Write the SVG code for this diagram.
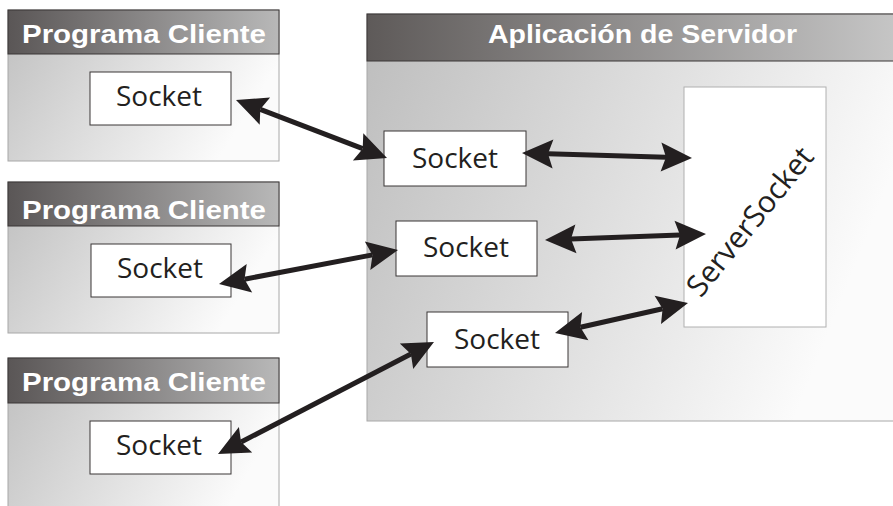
<svg xmlns="http://www.w3.org/2000/svg" width="893" height="506" viewBox="0 0 893 506">
<defs>
<linearGradient id="cBody" x1="0" y1="0" x2="1" y2="0.35">
<stop offset="0" stop-color="#bfbfbf"/><stop offset="1" stop-color="#fbfbfb"/>
</linearGradient>
<linearGradient id="cHead" x1="0" y1="0" x2="1" y2="0">
<stop offset="0" stop-color="#5a5656"/><stop offset="1" stop-color="#b8b8b8"/>
</linearGradient>
<linearGradient id="sHead" x1="0" y1="0" x2="1" y2="0">
<stop offset="0" stop-color="#5e5a59"/><stop offset="1" stop-color="#c8c8c8"/>
</linearGradient>
<linearGradient id="sBody" x1="0" y1="0" x2="1" y2="0.3">
<stop offset="0" stop-color="#bdbdbd"/><stop offset="1" stop-color="#fbfbfb"/>
</linearGradient>
</defs>
<style>
.body{stroke:#a8a8a8;stroke-width:1}
.head{stroke:#3a3636;stroke-width:1}
.ht{font-family:"Liberation Sans",Arial,sans-serif;font-weight:bold;font-size:25px;fill:#ffffff}
.box{fill:#ffffff;stroke:#3a3636;stroke-width:1}
.st{font-family:"Open Sans","Noto Sans",sans-serif;font-size:28px;fill:#231f20;text-anchor:middle}
.conn line{stroke:#231f20;stroke-width:5}
.conn polygon{fill:#231f20}
</style>
<rect width="893" height="506" fill="#ffffff"/>

<g id="client1">
<rect class="body" x="8" y="10" width="271" height="151" fill="url(#cBody)"/>
<rect class="head" x="8" y="10" width="271" height="44" fill="url(#cHead)"/>
<text class="ht" x="22" y="43" textLength="244" lengthAdjust="spacingAndGlyphs">Programa Cliente</text>
</g>
<g id="client2">
<rect class="body" x="8" y="182" width="271" height="151" fill="url(#cBody)"/>
<rect class="head" x="8" y="182" width="271" height="44" fill="url(#cHead)"/>
<text class="ht" x="22" y="219" textLength="244" lengthAdjust="spacingAndGlyphs">Programa Cliente</text>
</g>
<g id="client3">
<rect class="body" x="8" y="358" width="271" height="170" fill="url(#cBody)"/>
<rect class="head" x="8" y="358" width="271" height="45" fill="url(#cHead)"/>
<text class="ht" x="22" y="391" textLength="244" lengthAdjust="spacingAndGlyphs">Programa Cliente</text>
</g>
<g id="server">
<rect class="body" x="367" y="14" width="540" height="407" fill="url(#sBody)"/>
<rect class="head" x="367" y="14" width="540" height="47" fill="url(#sHead)"/>
<text class="ht" x="488" y="43" textLength="309" lengthAdjust="spacingAndGlyphs">Aplicación de Servidor</text>
</g>

<g id="csock1"><rect class="box" x="90" y="72" width="141" height="53"/><text class="st" x="159" y="106">Socket</text></g>
<g id="csock2"><rect class="box" x="91" y="244" width="140" height="53"/><text class="st" x="160" y="278">Socket</text></g>
<g id="csock3"><rect class="box" x="90" y="421" width="141" height="53"/><text class="st" x="159" y="455">Socket</text></g>

<g id="ssock1"><rect class="box" x="384" y="131" width="142" height="55"/><text class="st" x="455" y="168">Socket</text></g>
<g id="ssock2"><rect class="box" x="396" y="221" width="141" height="55"/><text class="st" x="466" y="257">Socket</text></g>
<g id="ssock3"><rect class="box" x="427" y="312" width="141" height="55"/><text class="st" x="497" y="349">Socket</text></g>

<g id="serversocket">
<rect x="684" y="87" width="142" height="240" fill="#ffffff" stroke="#b0b0b0" stroke-width="1"/>
<text class="st" style="font-size:30px" transform="translate(758,228) rotate(-51)" x="0" y="0">ServerSocket</text>
</g>

<g id="connectors" class="conn">
<line x1="260.3" y1="109.3" x2="362.7" y2="148.7"/>
<polygon points="387,158 352.9,160.4 362.7,148.7 363.3,133.3"/>
<polygon points="236,100 259.7,124.7 260.3,109.3 270.1,97.6"/>

<line x1="244.5" y1="279.2" x2="372.5" y2="254.9"/>
<polygon points="398,250 370.3,270 372.5,254.9 364.8,241.5"/>
<polygon points="219,284 252.2,292.5 244.5,279.2 246.7,264"/>

<line x1="241.1" y1="442" x2="410.9" y2="354"/>
<polygon points="434,342 413.2,369.1 410.9,354 399.8,343.4"/>
<polygon points="218,454 252.2,452.6 241.1,442 238.9,426.9"/>

<line x1="548" y1="153.8" x2="666" y2="157.2"/>
<polygon points="692,158 660.6,171.6 666,157.2 661.4,142.6"/>
<polygon points="522,153 552.6,168.4 548,153.8 553.4,139.4"/>

<line x1="571" y1="239" x2="680" y2="235"/>
<polygon points="706,234 675.6,249.6 680,235 674.5,220.7"/>
<polygon points="545,240 576.5,253.3 571,239 575.4,224.4"/>

<line x1="580.4" y1="327.3" x2="662.6" y2="308.7"/>
<polygon points="688,303 661,324 662.6,308.7 654.6,295.7"/>
<polygon points="555,333 588.4,340.3 580.4,327.3 582.1,312"/>
</g>
</svg>
